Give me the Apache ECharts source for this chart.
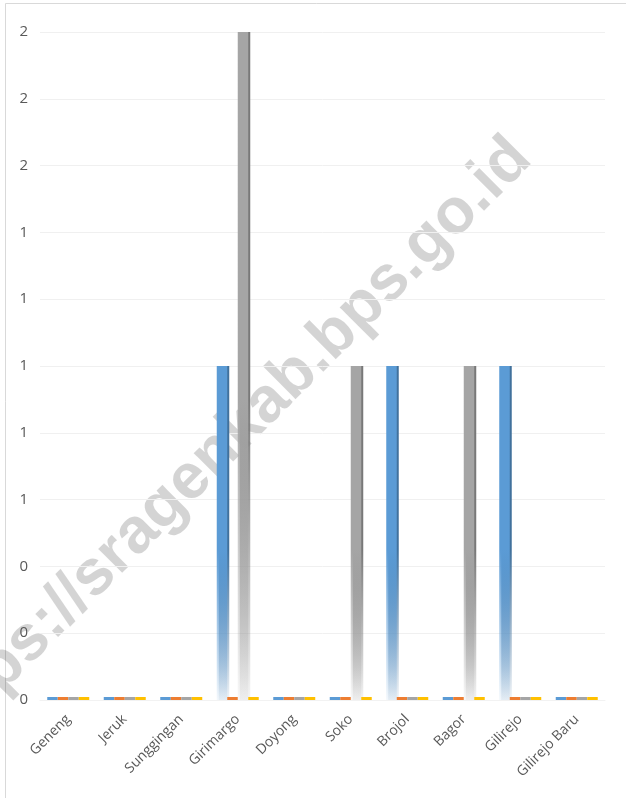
<!DOCTYPE html>
<html>
<head>
<meta charset="utf-8">
<script src="https://cdn.jsdelivr.net/npm/echarts@6/dist/echarts.min.js"></script>
<style>
html,body{margin:0;padding:0;background:#fff;}
#chart{width:626px;height:798px;}
</style>
</head>
<body>
<div id="chart"></div>
<script>
const categories = ['Geneng','Jeruk','Sunggingan','Girimargo','Doyong','Soko','Brojol','Bagor','Gilirejo','Gilirejo Baru'];
const seriesBlue   = [0,0,0,1,0,0,1,0,1,0];
const seriesOrange = [0,0,0,0,0,0,0,0,0,0];
const seriesGray   = [0,0,0,2,0,1,0,1,0,0];
const seriesYellow = [0,0,0,0,0,0,0,0,0,0];
const seriesData = [seriesBlue, seriesOrange, seriesGray, seriesYellow];
const seriesNames = ['Seri 1','Seri 2','Seri 3','Seri 4'];
const colors = ['#5B9BD5','#ED7D31','#A5A5A5','#FFC000'];
const sideColors = ['#41719C','#AE5A21','#787878','#BC8C00'];
const watermark = 'https://sragenkab.bps.go.id';

function hexA(hex, a){
  const n = parseInt(hex.slice(1),16);
  return 'rgba(' + ((n>>16)&255) + ',' + ((n>>8)&255) + ',' + (n&255) + ',' + a + ')';
}

const chart = echarts.init(document.getElementById('chart'));
const series = seriesData.map((arr, i) => ({
  name: seriesNames[i],
  type: 'bar',
  barWidth: 10.5,
  barGap: '0%',
  barMinHeight: 3,
  z: 3,
  itemStyle: {
    color: {
      type: 'linear', x: 0, y: 0, x2: 0, y2: 1,
      colorStops: [
        {offset: 0, color: colors[i]},
        {offset: 0.55, color: colors[i]},
        {offset: 0.9, color: hexA(colors[i], 0.3)},
        {offset: 1, color: hexA(colors[i], 0.08)}
      ]
    },
    shadowColor: sideColors[i],
    shadowOffsetX: 2,
    shadowOffsetY: 0,
    shadowBlur: 0
  },
  data: arr.map(v => v === 0
    ? {value: v, itemStyle: {color: colors[i], shadowColor: 'rgba(0,0,0,0)'}}
    : {value: v})
}));

chart.setOption({
  animation: false,
  backgroundColor: '#ffffff',
  grid: {left: 40, right: 21, top: 32, bottom: 98, containLabel: false},
  xAxis: {
    type: 'category',
    data: categories,
    axisLine: {show: true, lineStyle: {color: '#f2f2f2'}},
    axisTick: {show: false},
    axisLabel: {
      rotate: 45, interval: 0, margin: 17,
      color: '#595959', fontSize: 14, fontFamily: 'Open Sans'
    }
  },
  yAxis: {
    type: 'value',
    min: 0, max: 2, interval: 0.2,
    axisLine: {show: false},
    axisTick: {show: false},
    splitLine: {lineStyle: {color: '#f0f0f0', width: 1}},
    axisLabel: {
      margin: 12, color: '#595959', fontSize: 15, fontFamily: 'Open Sans',
      formatter: v => Number(v).toFixed(0)
    }
  },
  graphic: [
    {
      type: 'rect', z: -10, silent: true,
      shape: {x: 5.5, y: 3.5, width: 800, height: 900},
      style: {fill: 'none', stroke: '#d9d9d9', lineWidth: 1}
    },
    {
      type: 'text', z: 0, silent: true,
      x: 226, y: 444, rotation: Math.PI / 4,
      style: {
        text: watermark,
        font: 'bold 64px "Liberation Sans", Arial, sans-serif',
        fill: 'rgba(0,0,0,0.17)',
        align: 'center', verticalAlign: 'middle'
      }
    }
  ],
  series: series
});
</script>
</body>
</html>
